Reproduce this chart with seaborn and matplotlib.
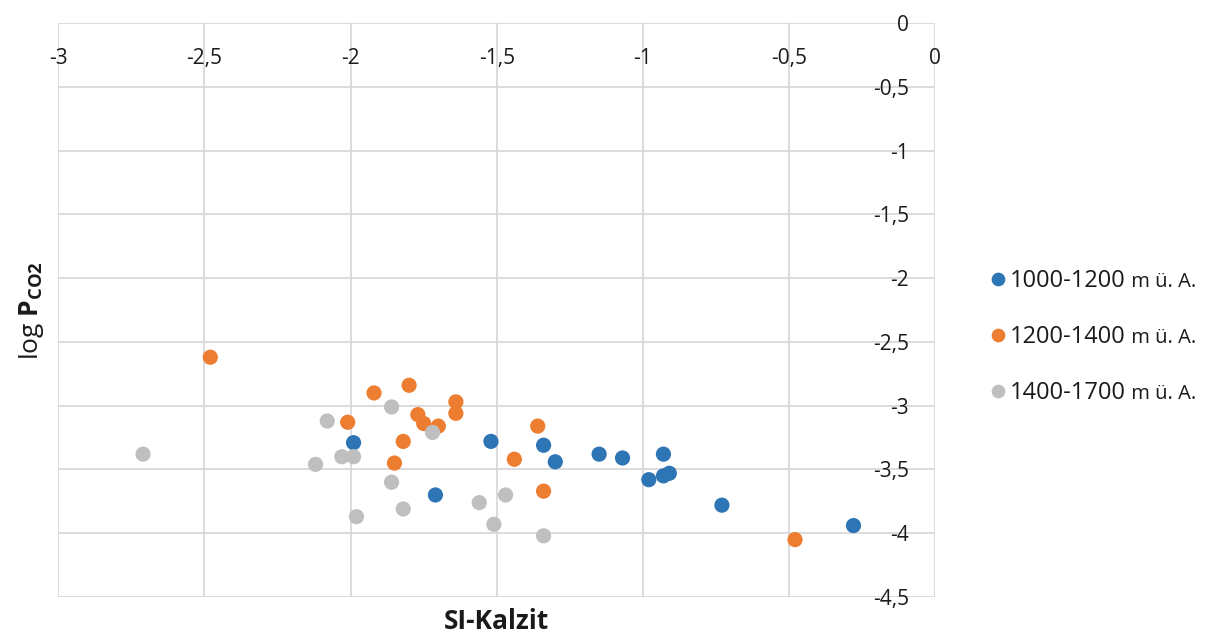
import matplotlib
matplotlib.use("Agg")
import matplotlib.pyplot as plt
import seaborn as sns
import pandas as pd
from matplotlib.ticker import FuncFormatter, MultipleLocator

# Saturation index of calcite (SI-Kalzit) and log pCO2 per altitude band
si_1000_1200 = [-1.99, -1.52, -1.71, -1.34, -1.30, -1.15, -1.07, -0.93, -0.98, -0.93, -0.91, -0.73, -0.28]
pco2_1000_1200 = [-3.29, -3.28, -3.70, -3.31, -3.44, -3.38, -3.41, -3.38, -3.58, -3.55, -3.53, -3.78, -3.94]

si_1200_1400 = [-2.48, -1.92, -1.80, -1.64, -1.64, -1.77, -1.75, -1.70, -2.01, -1.82, -1.85, -1.36, -1.44, -1.34, -0.48]
pco2_1200_1400 = [-2.62, -2.90, -2.84, -2.97, -3.06, -3.07, -3.14, -3.16, -3.13, -3.28, -3.45, -3.16, -3.42, -3.67, -4.05]

si_1400_1700 = [-2.71, -1.86, -2.08, -1.72, -2.03, -1.99, -2.12, -1.86, -1.82, -1.98, -1.56, -1.51, -1.47, -1.34]
pco2_1400_1700 = [-3.38, -3.01, -3.12, -3.21, -3.40, -3.40, -3.46, -3.60, -3.81, -3.87, -3.76, -3.93, -3.70, -4.02]

groups = ["1000-1200", "1200-1400", "1400-1700"]
unit_suffix = " m ü. A."
colors = ["#2E75B6", "#ED7D31", "#BFBFBF"]

df = pd.concat([
    pd.DataFrame({"SI": si_1000_1200, "pCO2": pco2_1000_1200, "Höhe": groups[0]}),
    pd.DataFrame({"SI": si_1200_1400, "pCO2": pco2_1200_1400, "Höhe": groups[1]}),
    pd.DataFrame({"SI": si_1400_1700, "pCO2": pco2_1400_1700, "Höhe": groups[2]}),
], ignore_index=True)

sns.set_theme(style="white")
font = "Open Sans"
plt.rcParams["font.family"] = [font, "DejaVu Sans"]
plt.rcParams["mathtext.fontset"] = "custom"
plt.rcParams["mathtext.rm"] = font
plt.rcParams["mathtext.bf"] = f"{font}:bold"
text_color = "#1a1a1a"
grid_color = "#D9D9D9"

W, H = 12.19, 6.36
fig = plt.figure(figsize=(W, H), dpi=100)
ax = fig.add_axes([0.0478, 0.0613, 0.7195, 0.9025])

sns.scatterplot(data=df, x="SI", y="pCO2", hue="Höhe", hue_order=groups,
                palette=colors, s=120, linewidth=0, alpha=1.0, ax=ax, zorder=3)

ax.set_xlim(-3, 0)
ax.set_ylim(-4.5, 0)
ax.xaxis.set_major_locator(MultipleLocator(0.5))
ax.yaxis.set_major_locator(MultipleLocator(0.5))
comma = FuncFormatter(lambda v, p: ("%g" % v).replace(".", ","))
ax.xaxis.set_major_formatter(comma)
ax.yaxis.set_major_formatter(comma)

# Axes cross at the origin: tick labels sit along y=0 and x=0
ax.spines["bottom"].set_position(("data", 0))
ax.spines["left"].set_position(("data", 0))
for sp in ax.spines.values():
    sp.set_visible(False)

ax.grid(True, color=grid_color, linewidth=1.3, zorder=0)
ax.set_axisbelow(True)
ax.tick_params(axis="x", length=0, pad=18, labelsize=15, labelcolor=text_color)
ax.tick_params(axis="y", length=0, pad=19, labelsize=15, labelcolor=text_color)

ax.set_xlabel("SI-Kalzit", fontsize=19, fontweight="bold", color=text_color)
ax.xaxis.set_label_coords(0.5, -0.02)
ax.set_ylabel(r"log $\mathbf{P}_{\mathbf{CO2}}$", fontsize=19, color=text_color)
ax.yaxis.set_label_coords(-0.014, 0.5)

sns.move_legend(ax, "center left", bbox_to_anchor=(1.061, 0.453), frameon=False,
                title=None, fontsize=17, labelspacing=1.35, handletextpad=0.1,
                handlelength=0.8, borderpad=0, markerscale=0.9, borderaxespad=0)
leg = ax.get_legend()
for t in leg.get_texts():
    t.set_color(text_color)

# Smaller unit suffix after each legend entry
fig.canvas.draw()
renderer = fig.canvas.get_renderer()
for t in leg.get_texts():
    bb = t.get_window_extent(renderer)
    fig.text(bb.x1 / fig.bbox.width, (bb.y0 + 1) / fig.bbox.height, unit_suffix,
             ha="left", va="bottom", fontsize=14.5, color=text_color)

fig.savefig("out.png", dpi=100)
